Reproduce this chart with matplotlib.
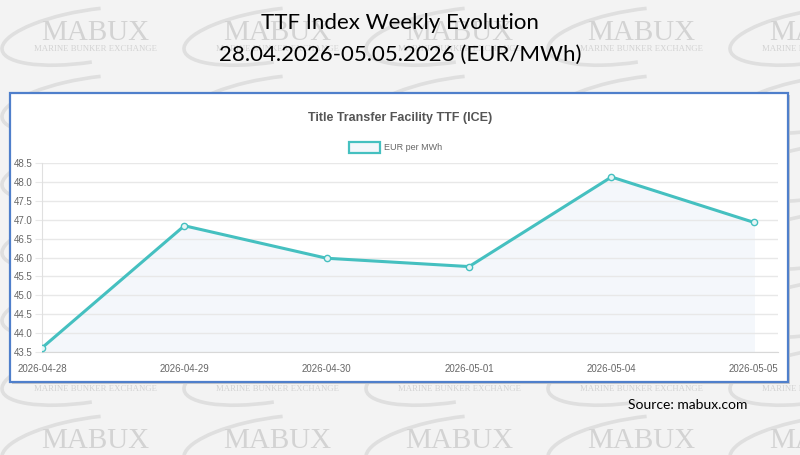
import matplotlib
matplotlib.use("Agg")
import matplotlib.pyplot as plt
from matplotlib.patches import Rectangle, Arc

# --- Data ---
dates = ["2026-04-28", "2026-04-29", "2026-04-30", "2026-05-01", "2026-05-04", "2026-05-05"]
ttf_values = [43.61, 46.84, 45.98, 45.76, 48.13, 46.93]
y_ticks = [43.5, 44.0, 44.5, 45.0, 45.5, 46.0, 46.5, 47.0, 47.5, 48.0, 48.5]

W, H = 800, 455
LINE = "#45c0c0"
BORDER = "#4f7fcb"
WM = "#d3d3d3"

fig = plt.figure(figsize=(W / 100, H / 100), dpi=100)
fig.patch.set_facecolor("#f3f3f3")

# background layer in pixel coordinates (y down)
bg = fig.add_axes([0, 0, 1, 1])
bg.set_xlim(0, W)
bg.set_ylim(H, 0)
bg.axis("off")
bg.set_zorder(0)

# --- MABUX watermark tiles: rows every 68 px, columns every 182 px ---
row_y = [33 + 68 * r for r in range(7)]
col_x = [95 + 182 * c for c in range(-1, 5)]
for yc in row_y:
    for xc in col_x:
        bg.add_patch(Arc((xc - 5, yc + 3), 178, 52, angle=-9, theta1=95, theta2=300,
                         color="#dfdfdf", lw=2.6, zorder=0))
        if xc < 0:
            continue
        if yc < 90 or yc > 430:
            bg.text(xc, yc, "MABUX", ha="center", va="center", fontsize=21,
                    family="Liberation Serif", color=WM, zorder=0)
        if yc < 90 or 360 < yc < 430:
            bg.text(xc, yc + 16, "MARINE BUNKER EXCHANGE", ha="center", va="center",
                    fontsize=6.3, family="Liberation Serif", color=WM, zorder=0)

# --- white chart box with faint shadow ---
bg.add_patch(Rectangle((12, 95), 778, 289, facecolor="#c9c9c9", edgecolor="none", zorder=1))
bg.add_patch(Rectangle((10, 93), 778, 289, facecolor="white", edgecolor=BORDER, lw=1.6, zorder=1))

# --- headline ---
bg.text(400, 23, "TTF Index Weekly Evolution", ha="center", va="center",
        fontsize=16, family="Lato", color="black", zorder=3)
bg.text(400, 55, "28.04.2026-05.05.2026 (EUR/MWh)", ha="center", va="center",
        fontsize=16, family="Lato", color="black", zorder=3)

# chart title and legend
bg.text(400, 118, "Title Transfer Facility TTF (ICE)", ha="center", va="center",
        fontsize=9, fontweight="bold", family="Liberation Sans", color="#555555", zorder=3)
bg.add_patch(Rectangle((349, 142), 31, 11, facecolor="#f4f7fb", edgecolor=LINE, lw=1.6, zorder=3))
bg.text(384, 148, "EUR per MWh", ha="left", va="center",
        fontsize=6.5, family="Liberation Sans", color="#666666", zorder=3)

# source note
bg.text(628, 405, "Source: mabux.com", ha="left", va="center",
        fontsize=10, family="Lato", color="black", zorder=3)

# --- line chart ---
ax = fig.add_axes([42 / W, 1 - 352 / H, (778 - 42) / W, (352 - 163) / H])
ax.set_zorder(2)
ax.patch.set_alpha(0)

xs = list(range(len(dates)))
ax.fill_between(xs, ttf_values, y_ticks[0], color="#f4f7fb", zorder=1)
ax.plot(xs, ttf_values, color=LINE, lw=2.2, zorder=3,
        marker="o", ms=4.5, mfc="#e8f6f6", mec=LINE, mew=1)

ax.set_xlim(0, len(dates) - 1 + 0.17)
ax.set_ylim(y_ticks[0], y_ticks[-1])
ax.set_xticks(xs)
ax.set_xticklabels(dates)
ax.set_yticks(y_ticks)
ax.set_yticklabels([f"{v:.1f}" for v in y_ticks])
ax.grid(axis="y", color="#e8e8e8", lw=1, zorder=0)
ax.tick_params(axis="y", length=5, color="#e8e8e8", pad=2, labelsize=7, labelcolor="#666666")
ax.tick_params(axis="x", length=0, pad=9, labelsize=7, labelcolor="#666666")
for lab in ax.get_xticklabels() + ax.get_yticklabels():
    lab.set_family("Liberation Sans")

for side in ["top", "right"]:
    ax.spines[side].set_visible(False)
ax.spines["left"].set_color("#e0e0e0")
ax.spines["bottom"].set_color("#d8d8d8")

fig.savefig("out.png", dpi=100, facecolor=fig.get_facecolor())
